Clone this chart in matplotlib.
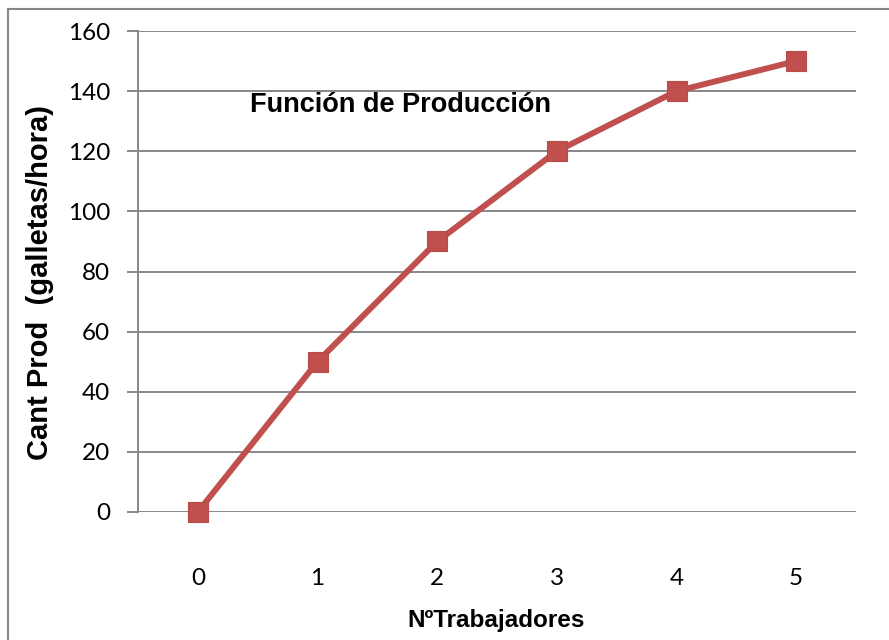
import matplotlib
matplotlib.use('Agg')
import matplotlib.pyplot as plt
from matplotlib.patches import Rectangle

# datos
trabajadores = [0, 1, 2, 3, 4, 5]
produccion = [0, 50, 90, 120, 140, 150]
yticks = [0, 20, 40, 60, 80, 100, 120, 140, 160]

rojo = '#C0504D'
gris = '#878787'

fig = plt.figure(figsize=(8.89, 6.4), dpi=100)
ax = fig.add_axes([138/889, 1 - 512/640, 718/889, 481/640])

ax.plot(range(len(trabajadores)), produccion, color=rojo, lw=4.3,
        marker='s', markersize=14.5, markerfacecolor=rojo,
        markeredgecolor='#B84A47', markeredgewidth=0.8, clip_on=False, zorder=3)

ax.set_xlim(-0.5, 5.5)
ax.set_ylim(0, 160)
ax.set_yticks(yticks)
ax.set_xticks(range(len(trabajadores)))
ax.set_xticklabels([str(t) for t in trabajadores])
ax.grid(axis='y', color=gris, lw=1.4)
ax.set_axisbelow(True)

for s in ['top', 'right', 'bottom']:
    ax.spines[s].set_visible(False)
ax.spines['left'].set_color(gris)
ax.spines['left'].set_linewidth(1.4)
ax.tick_params(axis='y', length=8, width=1.4, color=gris, pad=12)
ax.tick_params(axis='x', length=0, pad=40)
for lab in ax.get_xticklabels() + ax.get_yticklabels():
    lab.set_family('Lato')
    lab.set_fontsize(17.5)

# textos
fig.text(40/889, 1 - 282/640, 'Cant Prod  (galletas/hora)', family='Liberation Sans',
         fontweight='bold', fontsize=21, rotation=90, ha='center', va='center')
fig.text(496/889, 1 - 620/640, 'NºTrabajadores', family='Liberation Sans',
         fontweight='bold', fontsize=17.5, ha='center', va='center')
fig.text(401/889, 1 - 105/640, 'Función de Producción', family='Liberation Sans',
         fontweight='bold', fontsize=19.5, ha='center', va='center')

# marco exterior
fig.patches.append(Rectangle((8/889, -0.1), 1.2, 1.1 - 9/640,
                             transform=fig.transFigure, fill=False,
                             edgecolor=gris, lw=1.5))

fig.savefig('out.png', dpi=100)
